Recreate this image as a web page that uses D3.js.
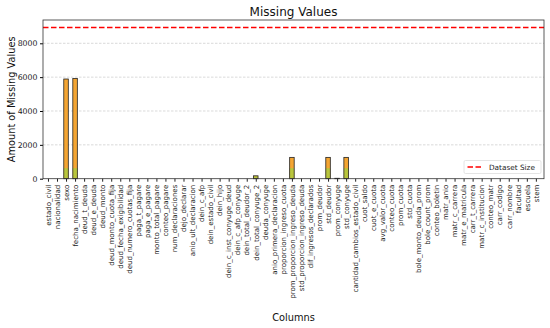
<!DOCTYPE html>
<html>
<head>
<meta charset="utf-8">
<script src="https://cdn.jsdelivr.net/npm/d3@7"></script>
<style>
    body { margin: 0; background: #fff; }
    svg { font-family: "DejaVu Sans", sans-serif; }
</style>
</head>
<body>
<div class="chart-container"></div>
<script>
var columns = ["estado_civil", "nacionalidad", "sexo", "fecha_nacimiento", "deud_t_deuda",
    "deud_e_deuda", "deud_monto", "deud_monto_cuota_fija", "deud_fecha_exigibilidad",
    "deud_numero_cuotas_fija", "paga_t_pagare", "paga_e_pagare", "monto_total_pagare",
    "conteo_pagare", "num_declaraciones", "dejo_declarar", "anio_ult_declaracion", "dein_c_afp",
    "dein_estado_civil", "dein_hijo", "dein_c_inst_conyuge_deud", "dein_c_afp_conyuge",
    "dein_total_deudor_2", "dein_total_conyuge_2", "deuda_conyuge", "anio_primera_declaracion",
    "proporcion_ingreso_cuota", "prom_proporcion_ingreso_deuda", "std_proporcion_ingreso_deuda",
    "dif_ingresos_declarados", "prom_deudor", "std_deudor", "prom_conyuge", "std_conyuge",
    "cantidad_cambios_estado_civil", "cuot_saldo", "cuot_e_cuota", "avg_valor_cuota",
    "conteo_cuota", "prom_cuota", "std_cuota", "bole_monto_deuda_prom", "bole_count_prom",
    "conteo_boletin", "matr_anio", "matr_c_carrera", "matr_e_matricula", "carr_t_carrera",
    "matr_c_institucion", "conteo_matr", "carr_codigo", "carr_nombre", "facultad", "escuela", "stem"];

// missing values per column (0 where nothing is visible)
var missing = {
    "sexo": 5890, "fecha_nacimiento": 5920, "dein_total_conyuge_2": 170,
    "prom_proporcion_ingreso_deuda": 1260, "std_deudor": 1260,
    "prom_conyuge": 25, "std_conyuge": 1260
};
// lower (yellow-green) part of the same bars
var lowerPart = {
    "sexo": 620, "fecha_nacimiento": 620, "dein_total_conyuge_2": 150,
    "prom_proporcion_ingreso_deuda": 620, "std_deudor": 620,
    "prom_conyuge": 25, "std_conyuge": 620
};
var datasetSize = 8930;
var yTicks = [0, 2000, 4000, 6000, 8000];

var width = 550, height = 328;
var plotLeft = 43, plotRight = 544, plotTop = 20, plotBottom = 178.7;

var svg = d3.select(".chart-container").append("svg")
        .attr("width", width)
        .attr("height", height);

var x = d3.scaleLinear().domain([-0.55, 54.9]).range([plotLeft, plotRight]);
var y = d3.scaleLinear().domain([0, datasetSize * 1.05]).range([plotBottom, plotTop]);
var barW = 0.5;

// grid
svg.selectAll(".grid")
        .data(yTicks.slice(1))
        .enter()
        .append("line")
        .attr("x1", plotLeft).attr("x2", plotRight)
        .attr("y1", function (d) { return y(d); })
        .attr("y2", function (d) { return y(d); })
        .attr("stroke", "#c8c8c8")
        .attr("stroke-width", 0.7)
        .attr("stroke-dasharray", "2.5,1.5");

// bars
var bars = svg.selectAll(".bar")
        .data(columns.filter(function (c) { return missing[c]; }))
        .enter()
        .append("g");

bars.append("rect")
        .attr("x", function (d) { return x(columns.indexOf(d) - barW / 2); })
        .attr("width", x(barW) - x(0))
        .attr("y", function (d) { return y(missing[d]); })
        .attr("height", function (d) { return y(0) - y(missing[d]); })
        .attr("fill", "#f4a532");

bars.append("rect")
        .attr("x", function (d) { return x(columns.indexOf(d) - barW / 2); })
        .attr("width", x(barW) - x(0))
        .attr("y", function (d) { return y(lowerPart[d]); })
        .attr("height", function (d) { return y(0) - y(lowerPart[d]); })
        .attr("fill", "#b9c53c");

bars.append("rect")
        .attr("x", function (d) { return x(columns.indexOf(d) - barW / 2); })
        .attr("width", x(barW) - x(0))
        .attr("y", function (d) { return y(missing[d]); })
        .attr("height", function (d) { return y(0) - y(missing[d]); })
        .attr("fill", "none")
        .attr("stroke", "#222")
        .attr("stroke-width", 0.8);

// dataset size line
svg.append("line")
        .attr("x1", plotLeft).attr("x2", plotRight)
        .attr("y1", y(datasetSize)).attr("y2", y(datasetSize))
        .attr("stroke", "red")
        .attr("stroke-width", 1.5)
        .attr("stroke-dasharray", "5.5,2.5");

// axes
var yAxis = d3.axisLeft(y).tickValues(yTicks).tickFormat(d3.format("d")).tickSize(3).tickPadding(2.5);
svg.append("g")
        .attr("transform", "translate(" + plotLeft + ",0)")
        .call(yAxis)
        .call(function (g) { g.select(".domain").remove(); })
        .selectAll("text")
        .attr("font-size", 7.8)
        .attr("font-family", "DejaVu Sans")
        .attr("fill", "#222");

var xAxis = d3.axisBottom(x)
        .tickValues(d3.range(columns.length))
        .tickFormat(function (i) { return columns[i]; })
        .tickSize(3)
        .tickPadding(2);
var gx = svg.append("g")
        .attr("transform", "translate(0," + plotBottom + ")")
        .call(xAxis)
        .call(function (g) { g.select(".domain").remove(); });
gx.selectAll("text")
        .attr("font-size", 7)
        .attr("font-family", "DejaVu Sans")
        .attr("fill", "#222")
        .attr("transform", "rotate(-90)")
        .attr("x", -6)
        .attr("y", 0)
        .attr("dy", "0.32em")
        .style("text-anchor", "end");
gx.selectAll("line").attr("stroke", "#222");

// frame
svg.append("rect")
        .attr("x", plotLeft).attr("y", plotTop)
        .attr("width", plotRight - plotLeft).attr("height", plotBottom - plotTop)
        .attr("fill", "none")
        .attr("stroke", "#333")
        .attr("stroke-width", 0.8);

// titles
svg.append("text")
        .attr("x", (plotLeft + plotRight) / 2).attr("y", 15.5)
        .attr("text-anchor", "middle")
        .attr("font-size", 12)
        .attr("fill", "#111")
        .text("Missing Values");

svg.append("text")
        .attr("transform", "translate(14.5," + ((plotTop + plotBottom) / 2) + ") rotate(-90)")
        .attr("text-anchor", "middle")
        .attr("font-size", 9.8)
        .attr("fill", "#111")
        .text("Amount of Missing Values");

svg.append("text")
        .attr("x", (plotLeft + plotRight) / 2).attr("y", 320.5)
        .attr("text-anchor", "middle")
        .attr("font-size", 9.8)
        .attr("fill", "#111")
        .text("Columns");

// legend
var lg = svg.append("g").attr("transform", "translate(464,160.5)");
lg.append("rect")
        .attr("width", 77).attr("height", 13)
        .attr("rx", 1.5)
        .attr("fill", "#fff")
        .attr("stroke", "#ddd")
        .attr("stroke-width", 0.8);
lg.append("line")
        .attr("x1", 3.5).attr("x2", 18)
        .attr("y1", 6.5).attr("y2", 6.5)
        .attr("stroke", "red")
        .attr("stroke-width", 1.5)
        .attr("stroke-dasharray", "5.5,2.5");
lg.append("text")
        .attr("x", 25).attr("y", 9)
        .attr("font-size", 7.3)
        .attr("fill", "#222")
        .text("Dataset Size");
</script>
</body>
</html>
